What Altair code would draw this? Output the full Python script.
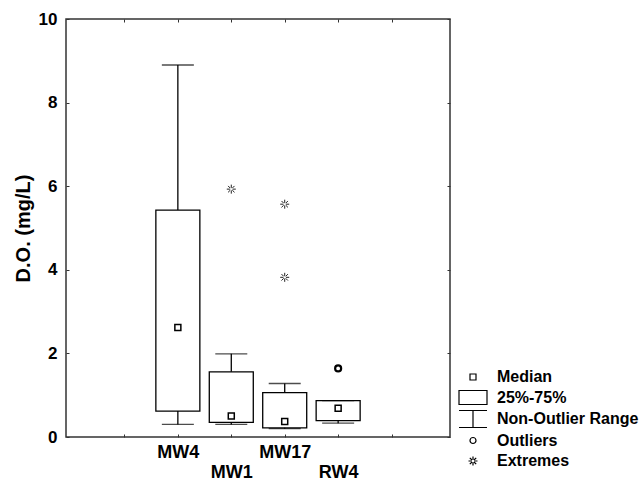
import altair as alt
import pandas as pd

# ---- data ----
sites = ["MW4", "MW1", "MW17", "RW4"]
site_index = [2, 3, 4, 5]          # category slot on the x axis (0..7)
q1 = [0.62, 0.35, 0.22, 0.39]
q3 = [5.43, 1.56, 1.06, 0.87]
medians = [2.62, 0.50, 0.37, 0.69]
whisker_lo = [0.30, 0.30, 0.20, 0.33]
whisker_hi = [8.90, 1.99, 1.28, 0.87]

outlier_sites = ["RW4"]
outlier_values = [1.64]
extreme_sites = ["MW1", "MW17", "MW17"]
extreme_values = [5.93, 5.57, 3.82]

legend_items = ["Median", "25%-75%", "Non-Outlier Range", "Outliers", "Extremes"]
y_ticks = [0, 2, 4, 6, 8, 10]
x_ticks = [1, 2, 3, 4, 5, 6]

# ---- tables ----
idx = dict(zip(sites, site_index))
boxes = pd.DataFrame({"site": sites, "pos": site_index, "q1": q1, "q3": q3,
                      "med": medians, "lo": whisker_lo, "hi": whisker_hi})
pts = pd.DataFrame(
    [{"pos": idx[s], "value": v, "kind": "Median"} for s, v in zip(sites, medians)]
    + [{"pos": idx[s], "value": v, "kind": "Outliers"} for s, v in zip(outlier_sites, outlier_values)]
    + [{"pos": idx[s], "value": v, "kind": "Extremes"} for s, v in zip(extreme_sites, extreme_values)]
)

FONT = "Liberation Sans"

# every symbol gets the same (invisible) extent so legend rows line up
EXT = "M-2.8,-1.4M2.8,1.4"
shape_paths = [
    EXT + "M-0.6,-0.6H0.6V0.6H-0.6Z",                                   # median square
    EXT + "M-2.8,-1.4H2.8V1.4H-2.8Z",                                   # box
    EXT + "M-2.8,-1.7H2.8M0,-1.7V1.7M-2.8,1.7H2.8",                     # whisker
    EXT + "M0.6,0A0.6,0.6 0 1,1 -0.6,0A0.6,0.6 0 1,1 0.6,0Z",           # circle
    EXT + "M-0.9,0H-0.25M0.25,0H0.9M0,-0.9V-0.25M0,0.25V0.9"
    "M-0.64,-0.64L-0.2,-0.2M0.2,0.2L0.64,0.64M-0.64,0.64L-0.2,0.2M0.2,-0.2L0.64,-0.64",  # asterisk
]

# x labels, staggered in two rows
label_map = {}
for k, (s, p) in enumerate(zip(sites, site_index)):
    label_map[p] = f"'{s}'" if k % 2 == 0 else f"['', '{s}']"
label_expr = "".join(f"datum.value == {p} ? {t} : " for p, t in label_map.items()) + "''"

xscale = alt.Scale(domain=[0, 7], nice=False, zero=False)
yscale = alt.Scale(domain=[0, 10], nice=False)

common_axis = dict(domain=False, grid=False, ticks=True, tickSize=3, offset=-3,
                   tickColor="#333", tickWidth=1)

x_bottom = alt.Axis(orient="bottom", values=x_ticks, labelExpr=label_expr, title=None,
                    labelFont=FONT, labelFontSize=18, labelFontWeight="bold",
                    labelColor="black", labelPadding=6, labelLineHeight=20,
                    labelBaseline="top", **common_axis)
x_top = alt.Axis(orient="top", values=x_ticks, labels=False, title=None, **common_axis)
y_left = alt.Axis(orient="left", values=y_ticks, title="D.O. (mg/L)",
                  labelFont=FONT, labelFontSize=17, labelFontWeight="bold",
                  labelColor="black", labelPadding=9,
                  titleFont=FONT, titleFontSize=20, titleFontWeight="bold",
                  titleColor="black", titlePadding=5, **common_axis)
y_right = alt.Axis(orient="right", values=y_ticks, labels=False, title=None, **common_axis)

base = alt.Chart(boxes)

whiskers = base.mark_rule(color="black", strokeWidth=1.3).encode(
    x=alt.X("pos:Q", scale=xscale, axis=x_top),
    y=alt.Y("lo:Q", scale=yscale, axis=y_right),
    y2="hi:Q",
)
box = base.mark_bar(size=44, fill="white", stroke="black", strokeWidth=1.3).encode(
    x=alt.X("pos:Q", scale=xscale, axis=x_bottom),
    y=alt.Y("q1:Q", scale=yscale, axis=y_left),
    y2="q3:Q",
)
cap_hi = base.mark_tick(orient="horizontal", size=32, thickness=1.3, color="black").encode(
    x=alt.X("pos:Q", scale=xscale, axis=None),
    y=alt.Y("hi:Q", scale=yscale, axis=None),
)
cap_lo = base.mark_tick(orient="horizontal", size=32, thickness=1.3, color="black").encode(
    x=alt.X("pos:Q", scale=xscale, axis=None),
    y=alt.Y("lo:Q", scale=yscale, axis=None),
)

shape_enc = alt.Shape(
    "kind:N", scale=alt.Scale(domain=legend_items, range=shape_paths),
    legend=alt.Legend(title=None, orient="none", legendX=399, legendY=350,
                      labelFont=FONT, labelFontSize=16,
                      labelFontWeight="bold", labelColor="black",
                      labelOffset=16, symbolSize=100, rowPadding=0.5,
                      symbolStrokeColor="black", symbolStrokeWidth=1.2,
                      symbolFillColor="transparent", padding=0,
                      labelLimit=300))


def point_layer(kind, width, color):
    return alt.Chart(pts).transform_filter(alt.datum.kind == kind).mark_point(
        filled=False, color=color, size=100, strokeWidth=width, opacity=1
    ).encode(
        x=alt.X("pos:Q", scale=xscale, axis=None),
        y=alt.Y("value:Q", scale=yscale, axis=None),
        shape=shape_enc,
    )


medians_l = point_layer("Median", 1.5, "black")
outliers_l = point_layer("Outliers", 2.2, "black")
extremes_l = point_layer("Extremes", 1.0, "#222")

chart = alt.layer(whiskers, box, cap_hi, cap_lo, medians_l, outliers_l, extremes_l).properties(
    width=384, height=418,
    padding={"left": 66, "top": 19, "right": 189, "bottom": 46},
    autosize=alt.AutoSizeParams(type="none"),
    background="white",
).configure_view(stroke="#333", strokeWidth=1.5)

chart.save("out.html", embed_options={"renderer": "svg", "actions": False})
